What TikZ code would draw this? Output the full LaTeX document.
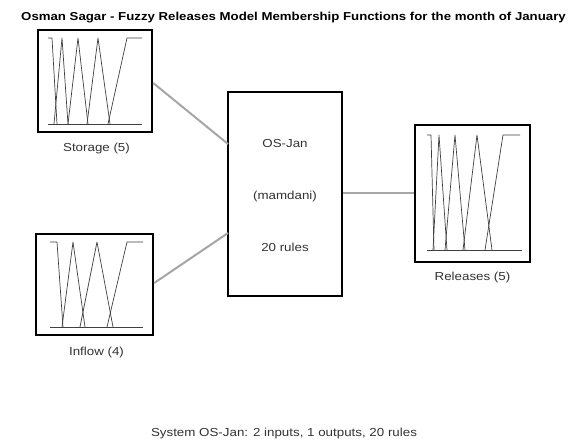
\documentclass[tikz,border=0pt]{standalone}
\usepackage{fontspec}
\setmainfont{Liberation Sans}
\newfontfamily\widefont[FakeStretch=1.15]{Liberation Sans}
\begin{document}
\begin{tikzpicture}[x=1pt,y=-1pt,
  blk/.style={draw=black,line width=2.4pt,rectangle,inner sep=0pt},
  conn/.style={draw=black!35,line width=2pt},
  mf/.style={draw=black!75,line width=0.7pt,line join=round},
  lbl/.style={font=\widefont\fontsize{11.6}{13}\selectfont,text=black!80},
  txt/.style={font=\widefont\fontsize{11.6}{13}\selectfont,text=black!80}]
\useasboundingbox (0,0) rectangle (568,441);
\fill[white] (0,0) rectangle (568,441);
% title
\node[font=\widefont\bfseries\fontsize{11.5}{13}\selectfont] (title) at (293.5,18) {Osman Sagar - Fuzzy Releases Model Membership Functions for the month of January};
% blocks
\node[blk,minimum width=114pt,minimum height=102pt] (st) at (95,81) {};
\node[blk,minimum width=117pt,minimum height=101pt] (in) at (94.5,284.5) {};
\node[blk,minimum width=115pt,minimum height=137pt] (rel) at (472.5,193.5) {};
\node[blk,minimum width=114pt,minimum height=204pt] (os) at (285,194) {};
% labels
\node[lbl] (stl) at (96.5,149) {Storage (5)};
\node[lbl] (inl) at (96.5,352) {Inflow (4)};
\node[lbl] (rell) at (472.5,277) {Releases (5)};
\node[txt] (t1) at (285,144) {OS-Jan};
\node[txt] (t2) at (285,196) {(mamdani)};
\node[txt] (t3) at (285,247) {20 rules};
\node[txt] (sys) at (284,433) {System OS-Jan: 2 inputs, 1 outputs, 20 rules};
% connectors
\coordinate (a1) at (228,144);
\coordinate (a2) at (228,233);
\draw[conn] (st.east |- 0,83) -- (a1);
\draw[conn] (in.east |- 0,283) -- (a2);
\draw[conn] (os.east |- 0,193) -- (rel.west |- 0,193);
% Storage MFs
\draw[mf] (48,124) -- (142,124);
\draw[mf] (48,38) -- (52,38) -- (57,124);
\draw[mf] (54,124) -- (62,38) -- (68,124);
\draw[mf] (68,124) -- (78,38) -- (88,124);
\draw[mf] (87,124) -- (98,38) -- (110,124);
\draw[mf] (108,124) -- (127,38) -- (142,38);
% Inflow MFs
\draw[mf] (50,327) -- (143,327);
\draw[mf] (50,242) -- (57,242) -- (63,327);
\draw[mf] (62,327) -- (73,242) -- (85,327);
\draw[mf] (80,327) -- (97,242) -- (113,327);
\draw[mf] (107,327) -- (127,242) -- (143,242);
% Releases MFs
\draw[mf] (427,250) -- (522,250);
\draw[mf] (427,135) -- (431,135) -- (434,250);
\draw[mf] (433,250) -- (439,135) -- (447,250);
\draw[mf] (445,250) -- (455,135) -- (465,250);
\draw[mf] (463,250) -- (477,135) -- (492,250);
\draw[mf] (485,250) -- (503,135) -- (520,135);
\end{tikzpicture}
\end{document}
